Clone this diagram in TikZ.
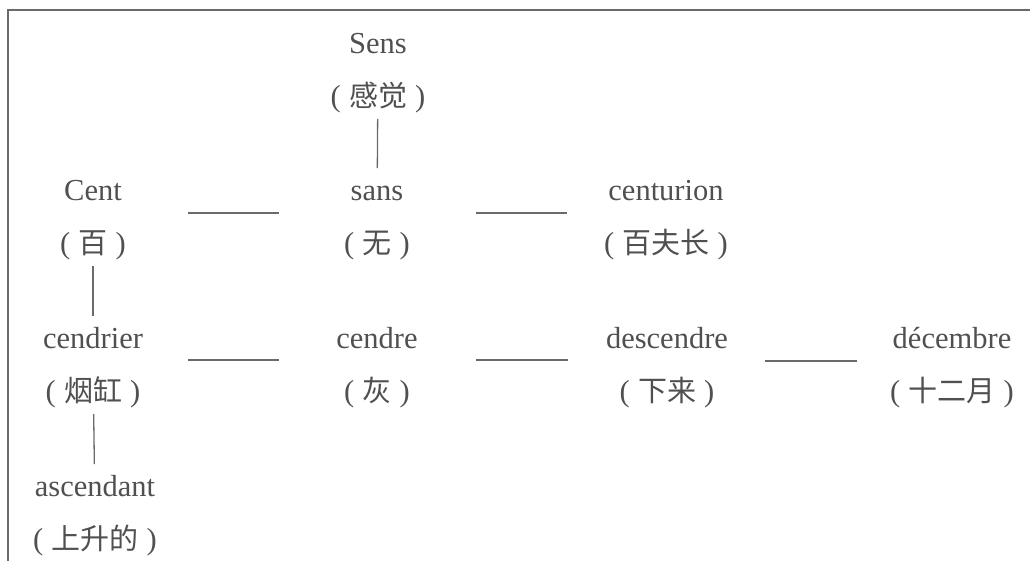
\documentclass[tikz,border=0pt]{standalone}
\usepackage{fontspec}
\setmainfont{Liberation Serif}
\newfontfamily\cjk{Noto Sans CJK SC}
\definecolor{ink}{HTML}{505050}
\definecolor{rule}{HTML}{6A6A6A}
\begin{document}
\begin{tikzpicture}[x=1pt,y=-1pt,
  word/.style={text=ink, align=center, inner sep=0pt,
    font=\fontsize{30.5}{53}\selectfont},
  hlink/.style={draw=rule, line width=1.3pt, shorten <=95pt, shorten >=98pt},
  vlink/.style={draw=rule, line width=1.3pt, shorten <=50pt, shorten >=48pt},
  frame/.style={draw=rule, line width=2pt}]
\useasboundingbox (0,0) rectangle (1030,560);
\draw[frame] (8,562) -- (8,10) -- (1032,10);
\newcommand{\wrd}[1]{\strut #1}
\newcommand{\gl}[1]{\strut({\cjk\fontsize{29}{53}\selectfont\hspace{0.28em}#1\hspace{0.28em}})}
\node[word] (sens) at (378,69) {\wrd{Sens}\\\gl{感觉}};
\node[word] (cent) at (93,216) {\wrd{Cent}\\\gl{百}};
\node[word] (sans) at (377,216) {\wrd{sans}\\\gl{无}};
\node[word] (centurion) at (666,216) {\wrd{centurion}\\\gl{百夫长}};
\node[word] (cendrier) at (93,364) {\wrd{cendrier}\\\gl{烟缸}};
\node[word] (cendre) at (377,364) {\wrd{cendre}\\\gl{灰}};
\node[word] (descendre) at (667,364) {\wrd{descendre}\\\gl{下来}};
\node[word] (decembre) at (952,364) {\wrd{décembre}\\\gl{十二月}};
\node[word] (ascendant) at (95,512) {\wrd{ascendant}\\\gl{上升的}};
\draw[vlink] (sens.center) -- (sans.center);
\draw[vlink] (cent.center) -- (cendrier.center);
\draw[vlink] (cendrier.center) -- (ascendant.center);
\draw[hlink] ([yshift=3pt]cent.center) -- ([yshift=3pt]sans.center);
\draw[hlink, shorten <=99pt, shorten >=99pt] ([yshift=3pt]sans.center) -- ([yshift=3pt]centurion.center);
\draw[hlink] ([yshift=4pt]cendrier.center) -- ([yshift=4pt]cendre.center);
\draw[hlink, shorten <=99pt, shorten >=99pt] ([yshift=4pt]cendre.center) -- ([yshift=4pt]descendre.center);
\draw[hlink, shorten <=98pt, shorten >=95pt] ([yshift=3pt]descendre.center) -- ([yshift=3pt]decembre.center);
\end{tikzpicture}
\end{document}
